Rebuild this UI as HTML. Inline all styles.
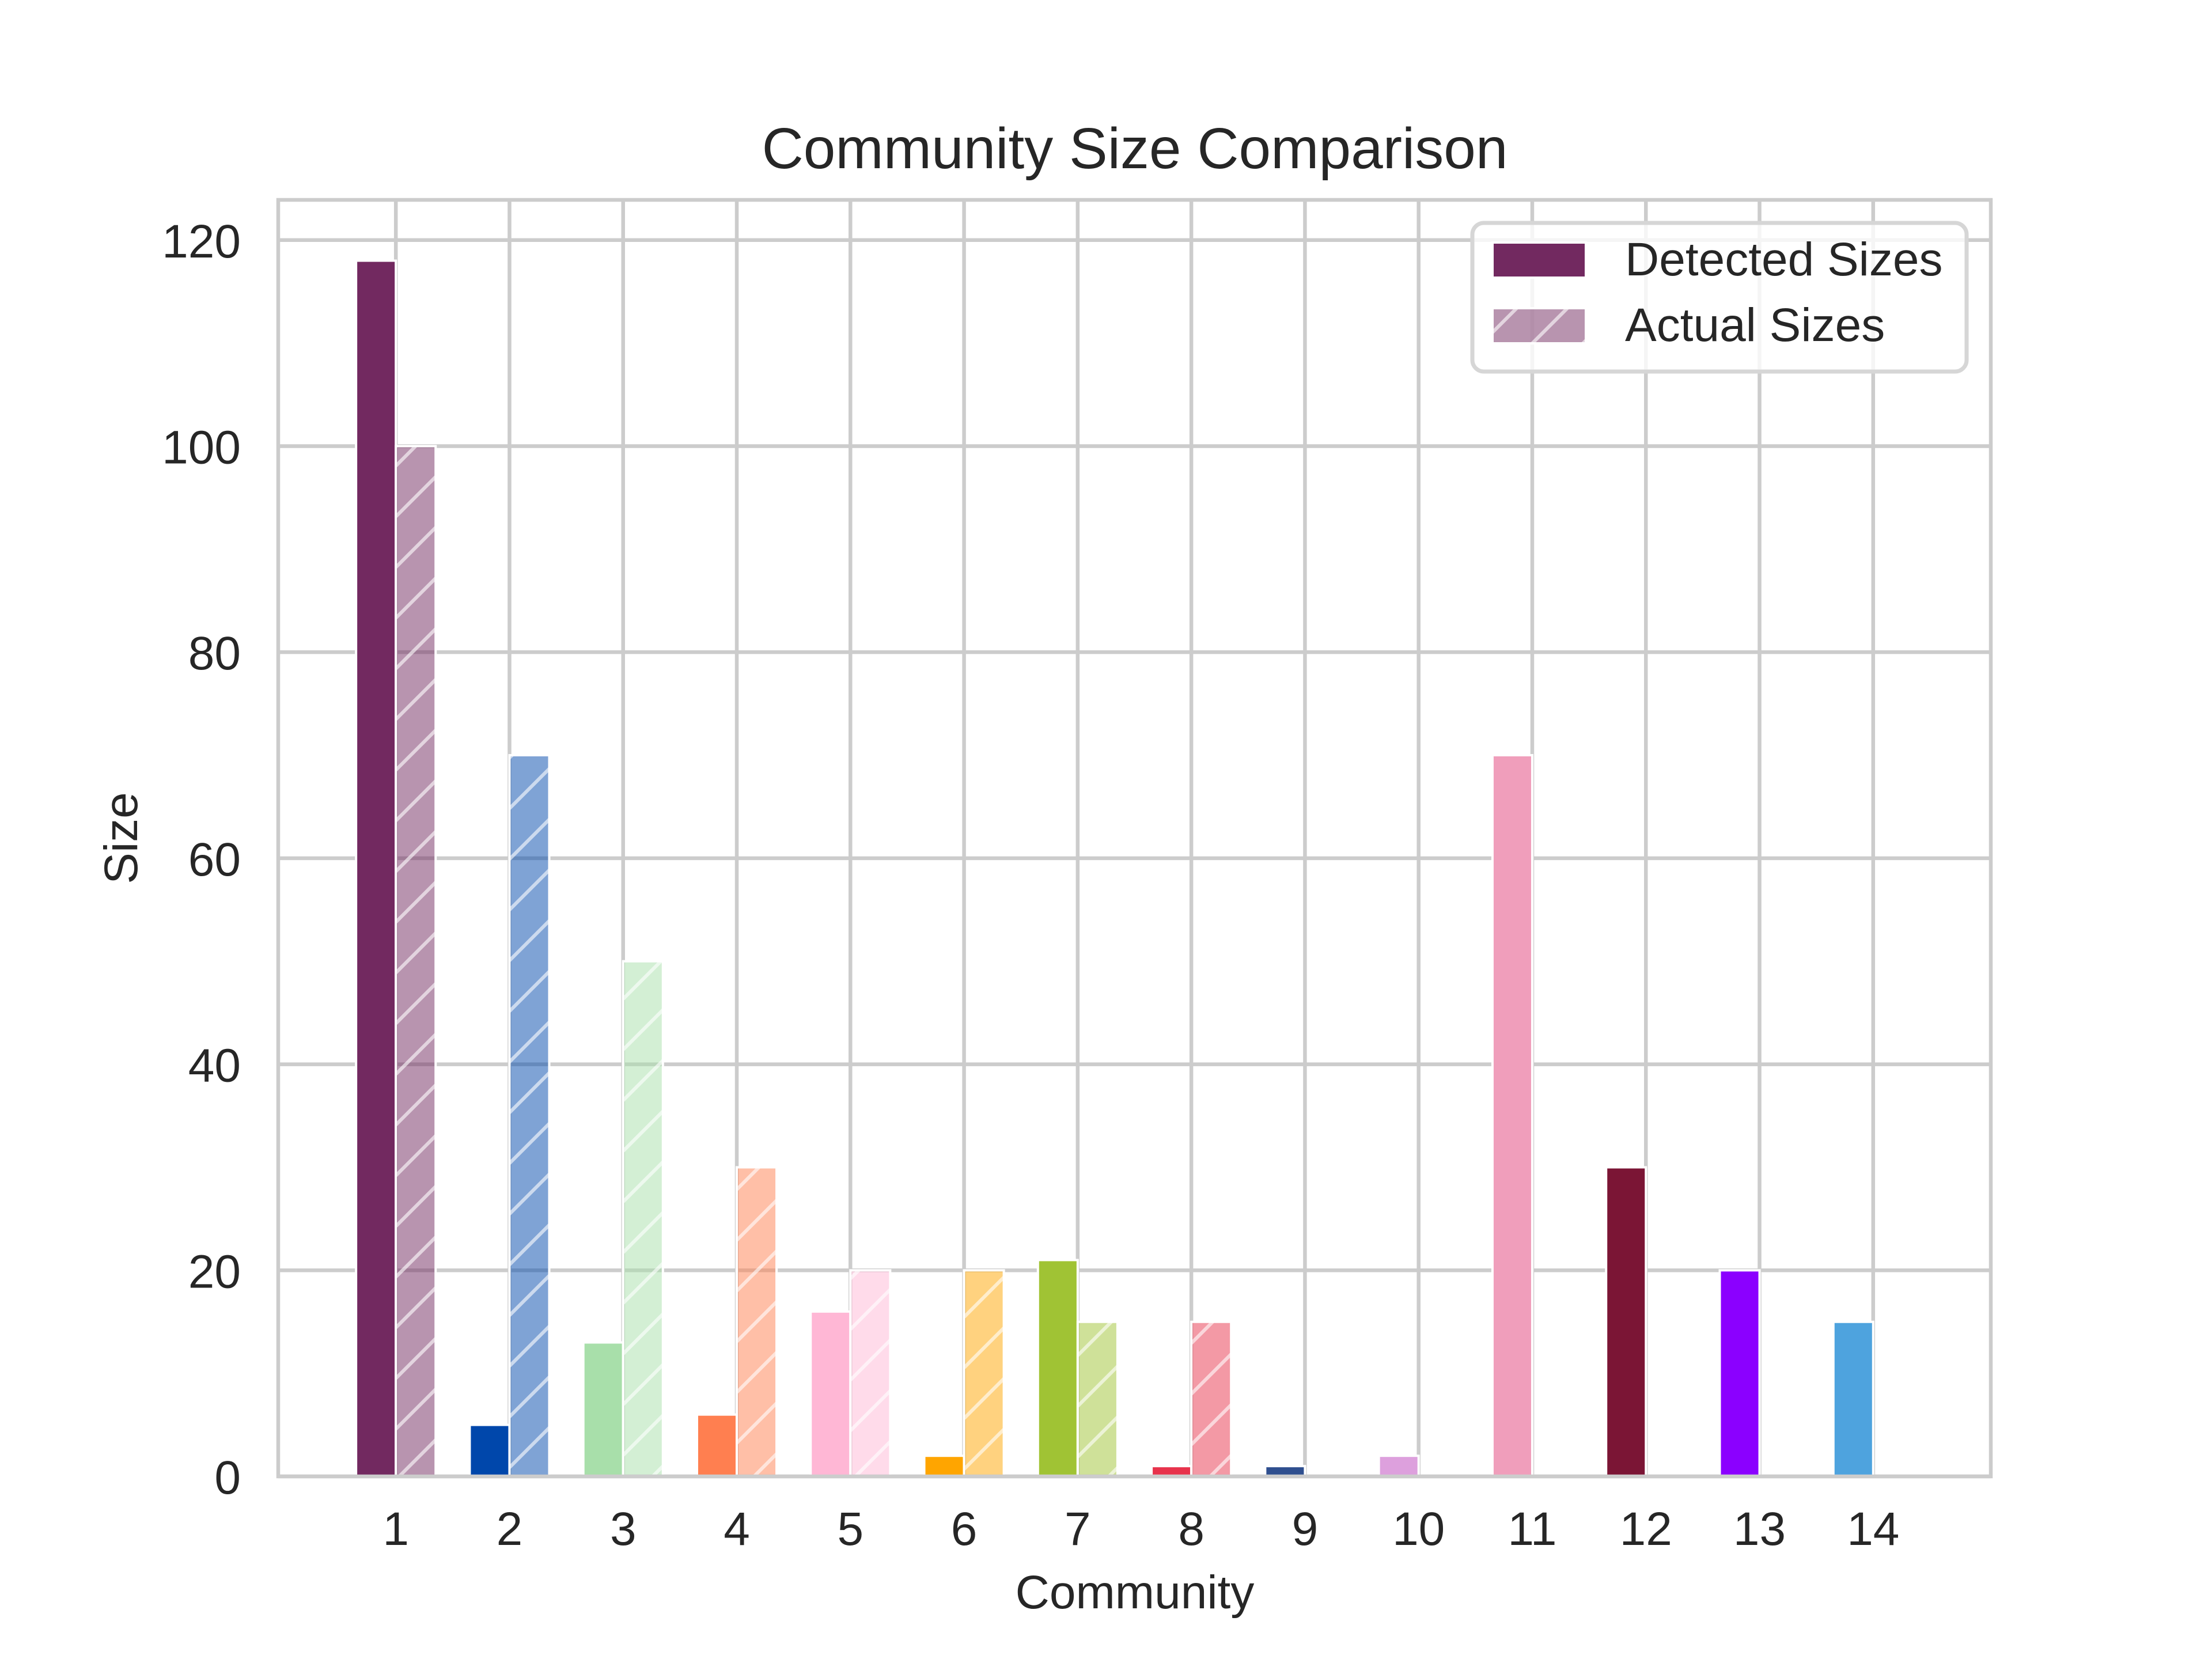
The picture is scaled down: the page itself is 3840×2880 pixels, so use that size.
<!DOCTYPE html>
<html><head><meta charset="utf-8"><style>
html,body{margin:0;padding:0;background:#fff;}
svg{display:block;font-family:"Liberation Sans","DejaVu Sans",sans-serif;}
</style></head><body>
<svg id="chart" width="3840" height="2880" viewBox="0 0 3840 2880" xmlns="http://www.w3.org/2000/svg">
<defs>
<pattern id="hatch" patternUnits="userSpaceOnUse" width="88" height="88">
<path d="M-10,98 L98,-10 M-54,54 L54,-54 M34,142 L142,34" stroke="#ffffff" stroke-opacity="0.6" stroke-width="6"/>
</pattern>
</defs>
<rect x="0" y="0" width="3840" height="2880" fill="#fff"/>
<g id="grid"></g>
<g id="bars"></g>
<g id="axes"></g>
<text x="1970" y="292" font-size="100" fill="#262626" text-anchor="middle">Community Size Comparison</text>
<text x="1970" y="2792" font-size="82" fill="#262626" text-anchor="middle">Community</text>
<text x="0" y="0" font-size="82" fill="#262626" text-anchor="middle" transform="translate(238,1455) rotate(-90)">Size</text>
<g>
<rect x="2556" y="387" width="858" height="258" rx="20" fill="#fff" fill-opacity="0.8" stroke="#d6d6d6" stroke-width="7"/>
<rect x="2591" y="421" width="162" height="61" fill="#722960" stroke="#fff" stroke-width="4"/>
<text x="2821" y="478" font-size="82" fill="#262626">Detected Sizes</text>
<rect x="2591" y="535" width="162" height="61" fill="#722960" fill-opacity="0.5" stroke="#fff" stroke-width="4"/>
<rect x="2591" y="535" width="162" height="61" fill="url(#hatch)"/>
<text x="2821" y="592" font-size="82" fill="#262626">Actual Sizes</text>
</g>
</svg>
<script>
const categories = [1,2,3,4,5,6,7,8,9,10,11,12,13,14];
const detectedSizes = [118,5,13,6,16,2,21,1,1,2,70,30,20,15];
const actualSizes = [100,70,50,30,20,20,15,15,0,0,0,0,0,0];
const colors = ["#722960","#0047AB","#A8DFAA","#FF7F50","#FFB7D5","#FFA500","#A0C334","#E8334C","#2F4F8F","#DDA0DD","#F09EBB","#7B1535","#8B00FF","#4EA3DE"];
const yTicks = [0,20,40,60,80,100,120];

const L=483,R=3456,T=347,B=2563;
const xMin=-0.035,xMax=15.035,yMax=123.9,barW=0.35;
const xs=v=>L+(v-xMin)/(xMax-xMin)*(R-L);
const ys=v=>B-v/yMax*(B-T);
const NS="http://www.w3.org/2000/svg";
function mk(tag,attrs,parent){const e=document.createElementNS(NS,tag);for(const k in attrs)e.setAttribute(k,attrs[k]);parent.appendChild(e);return e;}
const grid=document.getElementById('grid'),bars=document.getElementById('bars'),axes=document.getElementById('axes');

yTicks.forEach(t=>{
  const l=mk('line',{x1:L,x2:R,y1:ys(t),y2:ys(t),stroke:'#cccccc','stroke-width':6.5},grid);
  
  
  const tx=mk('text',{x:L-65,y:ys(t)+30,'font-size':82,fill:'#262626','text-anchor':'end'},axes);
  tx.textContent=t;
  
  
});
categories.forEach(c=>{
  const l=mk('line',{x1:xs(c),x2:xs(c),y1:T,y2:B,stroke:'#cccccc','stroke-width':6.5},grid);
  
  
  const tx=mk('text',{x:xs(c),y:B+119,'font-size':82,fill:'#262626','text-anchor':'middle'},axes);
  tx.textContent=c;
  
  
});
categories.forEach((c,i)=>{
  const d=detectedSizes[i];
  const r=mk('rect',{x:xs(c-barW),y:ys(d),width:xs(c)-xs(c-barW),height:ys(0)-ys(d),fill:colors[i],stroke:'#fff','stroke-width':4},bars);
  
  
  const a=actualSizes[i];
  if(a>0){
    const r2=mk('rect',{x:xs(c),y:ys(a),width:xs(c+barW)-xs(c),height:ys(0)-ys(a),fill:colors[i],'fill-opacity':0.5,stroke:'#fff','stroke-width':4},bars);
    
    
    mk('rect',{x:xs(c),y:ys(a),width:xs(c+barW)-xs(c),height:ys(0)-ys(a),fill:'url(#hatch)'},bars);
  }
});
const frame=mk('rect',{x:L,y:T,width:R-L,height:B-T,fill:'none',stroke:'#cccccc','stroke-width':6.5},axes);


</script>
</body></html>
